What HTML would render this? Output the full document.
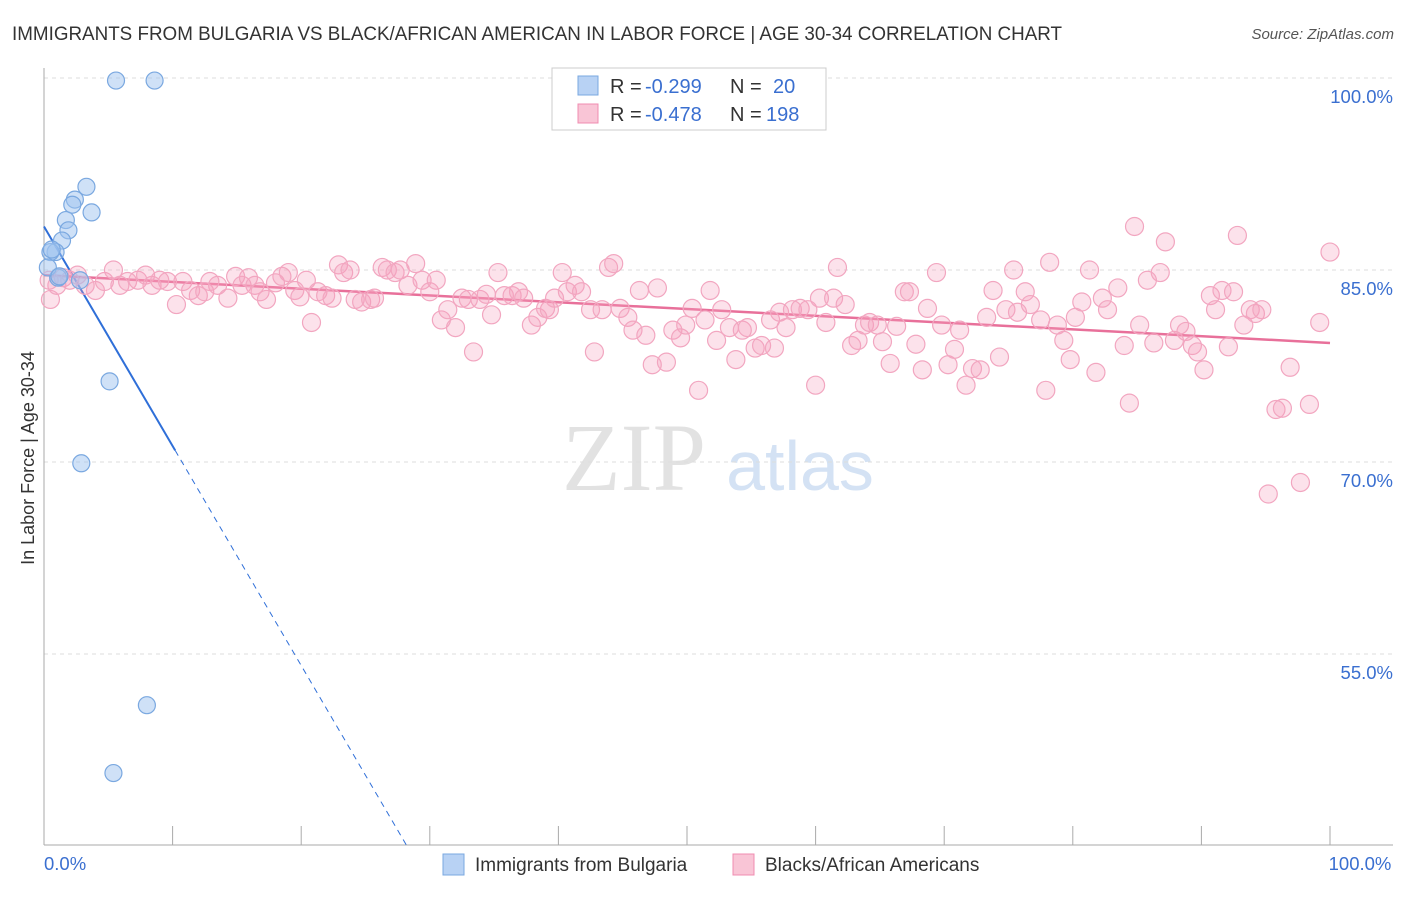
<!DOCTYPE html>
<html><head><meta charset="utf-8"><style>
body{margin:0;background:#fff;font-family:"Liberation Sans",sans-serif;}
</style></head><body>
<svg width="1406" height="892" xmlns="http://www.w3.org/2000/svg" id="chart">
<text x="12" y="40" font-size="19.5" fill="#333" textLength="1050" lengthAdjust="spacingAndGlyphs">IMMIGRANTS FROM BULGARIA VS BLACK/AFRICAN AMERICAN IN LABOR FORCE | AGE 30-34 CORRELATION CHART</text>
<text x="1394" y="39" font-size="15" fill="#555" font-style="italic" text-anchor="end">Source: ZipAtlas.com</text>
<g>
<text x="634" y="490" font-size="96" fill="#e2e2e2" font-family="Liberation Serif" text-anchor="middle">ZIP</text>
<text x="800" y="490" font-size="70" fill="#d4e2f4" text-anchor="middle">atlas</text>
</g>
<g id="grid"></g>
<g id="axes"></g>
<g id="trends"></g>
<g id="points"></g>
<text transform="translate(34,458) rotate(-90)" font-size="18" fill="#333" text-anchor="middle">In Labor Force | Age 30-34</text>
<g>
<rect x="552" y="68" width="274" height="62" fill="#fff" stroke="#ccc"/>
<rect x="578" y="76" width="20" height="19" fill="#b8d2f4" stroke="#7aa8e0"/>
<rect x="578" y="104" width="20" height="19" fill="#f9c5d6" stroke="#f08cb0"/>
<text x="610" y="93" font-size="20" fill="#333">R =</text>
<text x="645" y="93" font-size="20" fill="#3a6fd0">-0.299</text>
<text x="730" y="93" font-size="20" fill="#333">N =</text>
<text x="773" y="93" font-size="20" fill="#3a6fd0">20</text>
<text x="610" y="121" font-size="20" fill="#333">R =</text>
<text x="645" y="121" font-size="20" fill="#3a6fd0">-0.478</text>
<text x="730" y="121" font-size="20" fill="#333">N =</text>
<text x="766" y="121" font-size="20" fill="#3a6fd0">198</text>
</g>
<g>
<rect x="443" y="854" width="21" height="21" fill="#b8d2f4" stroke="#7aa8e0"/>
<text x="475" y="871" font-size="19" fill="#333">Immigrants from Bulgaria</text>
<rect x="733" y="854" width="21" height="21" fill="#f9c5d6" stroke="#f08cb0"/>
<text x="765" y="871" font-size="19" fill="#333">Blacks/African Americans</text>
</g>
</svg>
<script>
const yTicks=[100,85,70,55];
const yTickLabels=["100.0%","85.0%","70.0%","55.0%"];
const xTickLabels=["0.0%","100.0%"];
const blueX=[5.6,8.6,3.3,2.4,2.2,3.7,1.7,1.9,1.4,0.9,0.5,0.6,1.1,2.8,5.1,2.9,8.0,5.4,0.3,1.2];
const blueY=[99.8,99.8,91.5,90.5,90.1,89.5,88.9,88.1,87.3,86.4,86.4,86.6,84.4,84.2,76.3,69.9,51.0,45.7,85.2,84.5];
const pinkX=[0.5,1.0,1.5,2.0,2.6,3.2,4.0,4.7,5.4,5.9,6.5,7.3,7.9,8.4,9.0,9.6,10.3,10.8,11.4,12.0,12.5,12.9,13.5,14.3,14.9,15.4,15.9,16.4,16.8,17.3,18.0,18.5,19.0,19.5,19.9,20.4,20.8,21.3,21.9,22.4,22.9,23.3,23.8,24.2,24.7,25.4,25.7,26.3,26.7,27.3,27.7,28.3,28.9,29.4,30.0,30.5,30.9,31.4,32.0,32.5,33.0,33.4,33.9,34.4,34.8,35.3,35.8,36.4,36.9,37.3,37.9,38.4,39.0,39.3,39.7,40.3,40.7,41.3,41.8,42.5,42.8,43.4,43.9,44.3,44.8,45.4,45.8,46.3,46.8,47.3,47.7,48.4,48.9,49.5,49.9,50.4,50.9,51.4,51.8,52.3,52.7,53.3,53.8,54.3,54.7,55.3,55.8,56.5,56.8,57.2,57.7,58.2,58.8,59.4,60.0,60.3,60.8,61.4,61.7,62.3,62.8,63.3,63.8,64.2,64.8,65.2,65.8,66.3,66.9,67.3,67.8,68.3,68.7,69.4,69.8,70.3,70.8,71.2,71.7,72.2,72.8,73.3,73.8,74.3,74.8,75.4,75.7,76.3,76.7,77.5,77.9,78.2,78.8,79.3,79.8,80.2,80.7,81.3,81.8,82.3,82.7,83.5,84.0,84.4,84.8,85.2,85.8,86.3,86.8,87.2,87.9,88.3,88.8,89.3,89.7,90.2,90.7,91.1,91.6,92.1,92.5,92.8,93.3,93.8,94.2,94.7,95.2,95.8,96.3,96.9,97.7,98.4,99.2,100.0,0.4];
const pinkY=[82.7,83.8,84.4,84.2,84.6,83.8,83.4,84.1,85.0,83.8,84.1,84.2,84.6,83.8,84.2,84.1,82.3,84.1,83.4,83.0,83.3,84.1,83.8,82.8,84.5,83.8,84.4,83.8,83.3,82.7,84.0,84.5,84.8,83.4,82.9,84.2,80.9,83.3,83.0,82.8,85.4,84.8,85.0,82.7,82.5,82.7,82.8,85.2,85.0,84.8,85.0,83.8,85.5,84.2,83.3,84.2,81.1,81.9,80.5,82.8,82.7,78.6,82.7,83.1,81.5,84.8,83.0,83.0,83.3,82.8,80.7,81.3,82.0,81.9,82.8,84.8,83.3,83.8,83.3,81.9,78.6,81.9,85.2,85.5,82.0,81.3,80.3,83.4,79.9,77.6,83.6,77.8,80.3,79.7,80.7,82.0,75.6,81.1,83.4,79.5,81.9,80.5,78.0,80.3,80.5,78.9,79.1,81.1,78.9,81.7,80.5,81.9,82.0,81.9,76.0,82.8,80.9,82.8,85.2,82.3,79.1,79.5,80.7,80.9,80.7,79.4,77.7,80.6,83.3,83.3,79.2,77.2,82.0,84.8,80.7,77.6,78.8,80.3,76.0,77.3,77.2,81.3,83.4,78.2,81.9,85.0,81.7,83.3,82.3,81.1,75.6,85.6,80.7,79.5,78.0,81.3,82.5,85.0,77.0,82.8,81.9,83.6,79.1,74.6,88.4,80.7,84.2,79.3,84.8,87.2,79.5,80.7,80.2,79.1,78.6,77.2,83.0,81.9,83.4,79.0,83.3,87.7,80.7,81.9,81.6,81.9,67.5,74.1,74.2,77.4,68.4,74.5,80.9,86.4,84.2];
const blueTrend=[88.4,-1.715];
const pinkTrend=[84.6,-0.053];
const NS="http://www.w3.org/2000/svg";
const X0=44,X1=1330,YTOP=78;
function sx(v){return X0+(X1-X0)*v/100;}
function sy(v){return YTOP+(100-v)*12.8;}
function mk(tag,attrs,parent){const e=document.createElementNS(NS,tag);for(const k in attrs)e.setAttribute(k,attrs[k]);parent.appendChild(e);return e;}
const grid=document.getElementById('grid'),axes=document.getElementById('axes'),trends=document.getElementById('trends'),pts=document.getElementById('points');
yTicks.forEach((t,i)=>{
 const l=mk('line',{x1:X0,x2:1393,y1:sy(t),y2:sy(t),stroke:'#ddd','stroke-dasharray':'4,4'},grid);
 
 
 const tx=mk('text',{x:1393,y:sy(t)+25,'font-size':18.5,fill:'#3a6fd0','text-anchor':'end'},axes);
 tx.textContent=yTickLabels[i];
 
 
});
const ya=mk('line',{x1:X0,x2:X0,y1:68,y2:845,stroke:'#aaa'},axes);


const xa=mk('line',{x1:X0,x2:1393,y1:845,y2:845,stroke:'#aaa'},axes);


for(let i=0;i<=10;i++){
 const t=mk('line',{x1:sx(i*10),x2:sx(i*10),y1:826,y2:845,stroke:'#aaa'},axes);
 
 
}
[[0,'start'],[100,'middle']].forEach((p,i)=>{
 const tx=mk('text',{x:i?1360:X0,y:870,'font-size':18.5,fill:'#3a6fd0','text-anchor':p[1]},axes);
 tx.textContent=xTickLabels[i];
 
 
});
const bEndSolid=10.2;
const bZero=(blueTrend[0]-40.1)/-blueTrend[1];
const bs=mk('line',{x1:sx(0),y1:sy(blueTrend[0]),x2:sx(bEndSolid),y2:sy(blueTrend[0]+blueTrend[1]*bEndSolid),stroke:'#2f6fd8','stroke-width':2},trends);


const bd=mk('line',{x1:sx(bEndSolid),y1:sy(blueTrend[0]+blueTrend[1]*bEndSolid),x2:sx(bZero),y2:sy(blueTrend[0]+blueTrend[1]*bZero),stroke:'#2f6fd8','stroke-width':1,'stroke-dasharray':'6,5'},trends);


const pt=mk('line',{x1:sx(0),y1:sy(pinkTrend[0]),x2:sx(100),y2:sy(pinkTrend[0]+pinkTrend[1]*100),stroke:'#e8709a','stroke-width':2.5},trends);


pinkX.forEach((x,i)=>{
 const c=mk('circle',{cx:sx(x),cy:sy(pinkY[i]),r:9,fill:'rgba(244,160,190,0.3)',stroke:'#f2a6c0','stroke-width':1.2},pts);
 
 
});
blueX.forEach((x,i)=>{
 const c=mk('circle',{cx:sx(x),cy:sy(blueY[i]),r:8.5,fill:'rgba(160,196,240,0.5)',stroke:'#7aa8e0','stroke-width':1.2},pts);
 
 
});
</script>
</body></html>
